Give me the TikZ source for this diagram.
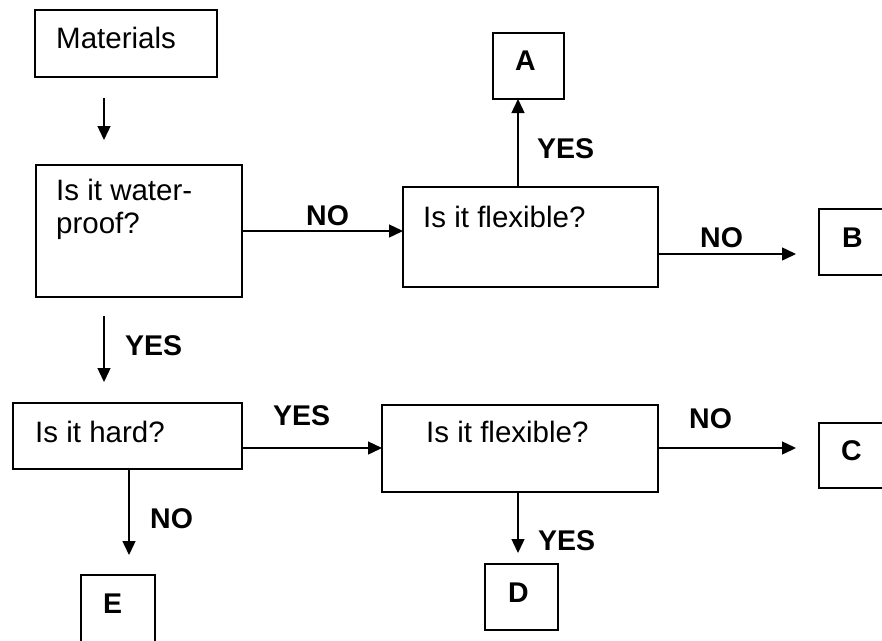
\documentclass[tikz,border=0pt]{standalone}
\usepackage{fontspec}
\setmainfont{Liberation Sans}
\usetikzlibrary{arrows.meta}
\begin{document}
\begin{tikzpicture}[x=1pt,y=-1pt,
  box/.style={draw, line width=1.8pt, inner sep=0pt, outer sep=0pt, anchor=north west},
  txt/.style={anchor=base west, inner sep=0pt, font=\fontsize{29.5}{33}\selectfont},
  lbl/.style={anchor=base west, inner sep=0pt, font=\fontsize{28.5}{33}\selectfont\bfseries},
  arr/.style={line width=1.4pt, -{Triangle[length=14pt,width=13pt]}}]
\clip (0,0) rectangle (882,640);
\fill[white] (0,0) rectangle (882,640);
% boxes
\node[box, minimum width=182pt, minimum height=67pt] (mat) at (35,10) {};
\node[box, minimum width=206pt, minimum height=132pt] (wp) at (36,165) {};
\node[box, minimum width=255pt, minimum height=100pt] (flexa) at (403,187) {};
\node[box, minimum width=71pt, minimum height=66pt] (A) at (493,33) {};
\node[box, minimum width=100pt, minimum height=66pt] (B) at (819,209) {};
\node[box, minimum width=229pt, minimum height=66pt] (hard) at (13,403) {};
\node[box, minimum width=276pt, minimum height=87pt] (flexb) at (382,405) {};
\node[box, minimum width=100pt, minimum height=65pt] (C) at (819,423) {};
\node[box, minimum width=73pt, minimum height=66pt] (D) at (485,564) {};
\node[box, minimum width=74pt, minimum height=100pt] (E) at (81,575) {};
% texts
\node[txt] (tmat) at (56,48) {Materials};
\node[txt, anchor=north west, align=left] (twp) at (56,179) {Is it water-\\proof?};
\node[txt] (tfa) at (423,227) {Is it flexible?};
\node[txt] (thard) at (35,442) {Is it hard?};
\node[txt] (tfb) at (426,442) {Is it flexible?};
\node[lbl] (tA) at (515,70) {A};
\node[lbl] (tB) at (842,247) {B};
\node[lbl] (tC) at (841,460) {C};
\node[lbl] (tD) at (508,602) {D};
\node[lbl] (tE) at (103,613) {E};
% connector labels
\node[lbl] (l1) at (306,225) {NO};
\node[lbl] (l2) at (537,158) {YES};
\node[lbl] (l3) at (700,247) {NO};
\node[lbl] (l4) at (125,355) {YES};
\node[lbl] (l5) at (273,425) {YES};
\node[lbl] (l6) at (689,428) {NO};
\node[lbl] (l7) at (150,528) {NO};
\node[lbl] (l8) at (538,550) {YES};
% free ends
\coordinate (m1) at (104,98);
\coordinate (m2) at (104,140);
\coordinate (w1) at (104,316);
\coordinate (w2) at (104,382);
\coordinate (fa) at (518,187);
\coordinate (bend) at (796,254);
\coordinate (cend) at (796,448);
\coordinate (he) at (129,555);
\coordinate (fd) at (518,553);
% connectors
\draw[arr] (m1) -- (m2);
\draw[arr] (wp.east) -- (wp.east -| flexa.west);
\draw[arr] (fa) -- (fa |- A.south);
\draw[arr] (bend -| flexa.east) -- (bend);
\draw[arr] (w1) -- (w2);
\draw[arr] (cend -| hard.east) -- (cend -| flexb.west);
\draw[arr] (cend -| flexb.east) -- (cend);
\draw[arr] (he |- hard.south) -- (he);
\draw[arr] (fd |- flexb.south) -- (fd);
\end{tikzpicture}
\end{document}
